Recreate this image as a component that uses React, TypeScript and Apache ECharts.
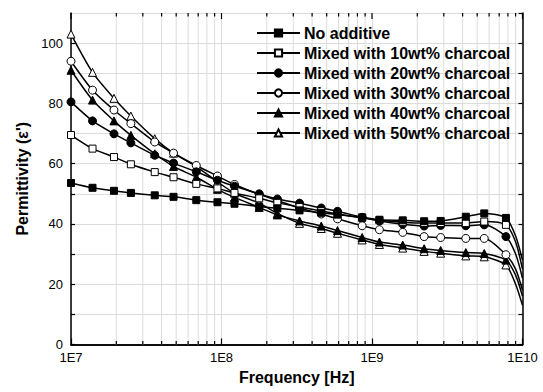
import React, { useEffect, useRef } from "react";
import * as echarts from "echarts";

const frequencies = [
  1e7, 1.39e7, 1.93e7, 2.5e7, 3.6e7, 4.8e7, 6.8e7, 9.4e7, 1.22e8, 1.78e8, 2.35e8, 3.3e8,
  4.6e8, 5.9e8, 8.6e8, 1.12e9, 1.6e9, 2.22e9, 2.86e9, 4.2e9, 5.57e9, 7.76e9, 9e9, 1e10,
];
// indices of the points that carry no marker
const hiddenMarkerIndex = [22, 23];

const noAdditive = [53.6, 52, 51, 50.3, 49.5, 49, 47.9, 47.2, 46.7, 45.8, 45.2, 44.5, 43.7, 43.1, 42.2, 41.4, 41.2, 40.9, 41, 42.4, 43.5, 42, 36, 28];
const wt10 = [69.5, 65, 62.2, 59.8, 57.2, 55.5, 53.3, 51.8, 50.3, 48.5, 47, 45.6, 44.3, 43.3, 42, 41.2, 40.6, 40.3, 40.3, 40.3, 40.8, 39.7, 34, 25];
const wt20 = [80.5, 74.2, 69.9, 66.9, 62.8, 60.2, 57.3, 54.5, 52.5, 50, 48.3, 46.9, 45.3, 44.2, 42.2, 41, 39.9, 39.3, 39.5, 39.4, 39.7, 35.8, 30, 22];
const wt30 = [94, 84.4, 77.8, 73.3, 67.2, 63.5, 59.4, 55.9, 53.1, 49.8, 47.8, 45.3, 43.3, 41.7, 39.4, 38.1, 37.2, 35.8, 35.5, 35.2, 35.2, 29.8, 25, 18];
const wt40 = [91, 81.1, 74.2, 69.4, 63.3, 59.1, 55.5, 51.5, 48.8, 45.5, 43, 41, 39.3, 37.8, 35.5, 34, 33, 31.8, 31.2, 30.5, 30.2, 28, 23, 16];
const wt50 = [103, 90.3, 81.7, 75.8, 68.3, 63.5, 59, 54, 50.2, 46.9, 43.5, 40.2, 38.5, 36.9, 34.7, 33.2, 32, 30.9, 30.3, 29.4, 29.1, 26.4, 20, 13];

const seriesNames = [
  "No additive",
  "Mixed with 10wt% charcoal",
  "Mixed with 20wt% charcoal",
  "Mixed with 30wt% charcoal",
  "Mixed with 40wt% charcoal",
  "Mixed with 50wt% charcoal",
];
const seriesValues = [noAdditive, wt10, wt20, wt30, wt40, wt50];
const seriesSymbols = ["rect", "rect", "circle", "circle", "triangle", "triangle"];
const seriesFilled = [true, false, true, false, true, false];

// x axis: decades and minor (2..9) positions
const decades = [1e7, 1e8, 1e9];
const minorMultipliers = [2, 3, 4, 5, 6, 7, 8, 9];
const minorFreqs: number[] = [];
decades.forEach((d) => minorMultipliers.forEach((k) => minorFreqs.push(k * d)));
const majorFreqs = [1e7, 1e8, 1e9, 1e10];
const yMin = 0;
const yMax = 110;
const yLabels = [0, 20, 40, 60, 80, 100];

const FONT = "'Liberation Sans', Arial, sans-serif";

export default function App() {
  const ref = useRef<HTMLDivElement>(null);
  useEffect(() => {
    if (!ref.current) return;
    const chart = echarts.init(ref.current, undefined, { renderer: "svg" });
    const gridColor = "#dcdcdc";
    const series: any[] = seriesNames.map((name, i) => ({
      name,
      type: "line",
      xAxisIndex: 0,
      yAxisIndex: 0,
      smooth: 0.25,
      symbol: seriesSymbols[i],
      symbolSize: seriesSymbols[i] === "rect" ? 7 : 8,
      showAllSymbol: true,
      lineStyle: { color: "#000", width: 1.5 },
      itemStyle: seriesFilled[i]
        ? { color: "#000", borderColor: "#000", borderWidth: 1 }
        : { color: "#fff", borderColor: "#000", borderWidth: 1 },
      data: frequencies.map((f, j) =>
        hiddenMarkerIndex.includes(j)
          ? { value: [f, seriesValues[i][j]], symbol: "none" }
          : { value: [f, seriesValues[i][j]] }
      ),
      z: 20 - i,
    }));
    const axisLine = { show: true, lineStyle: { color: "#000", width: 1.5 } };
    chart.setOption({
      animation: false,
      textStyle: { fontFamily: FONT },
      grid: { left: 71, top: 13, right: 20.5, bottom: 47.5, containLabel: false },
      legend: {
        show: true,
        orient: "vertical",
        left: 256,
        top: 24,
        padding: 0,
        itemWidth: 43,
        itemHeight: 9,
        itemGap: 2,
        data: seriesNames,
        textStyle: { fontFamily: FONT, fontSize: 16, fontWeight: "bold", color: "#000", lineHeight: 18, padding: [0, 0, 0, -1] },
      },
      xAxis: [
        {
          type: "log",
          logBase: 10,
          min: 1e7,
          max: 1e10,
          position: "bottom",
          axisLine,
          axisTick: { show: true, inside: true, length: 6, lineStyle: { color: "#000", width: 1.2 } },
          axisLabel: {
            show: true,
            margin: 6,
            fontSize: 13,
            color: "#000",
            fontFamily: FONT,
            formatter: (v: number) => "1E" + Math.round(Math.log10(v)),
          },
          splitLine: { show: true, lineStyle: { color: gridColor, width: 1 } },
          name: "Frequency [Hz]",
          nameLocation: "middle",
          nameGap: 25,
          nameTextStyle: { fontFamily: FONT, fontSize: 16, fontWeight: "bold", color: "#000" },
        },
        {
          type: "log",
          logBase: 10,
          min: 1e7,
          max: 1e10,
          position: "top",
          axisLine,
          axisTick: { show: false },
          axisLabel: { show: false },
          splitLine: { show: false },
        },
      ],
      yAxis: [
        {
          type: "value",
          min: yMin,
          max: yMax,
          interval: 10,
          position: "left",
          axisLine,
          axisTick: { show: true, inside: true, length: 4, lineStyle: { color: "#000", width: 1.2 } },
          axisLabel: {
            show: true,
            margin: 8,
            fontSize: 13,
            color: "#000",
            fontFamily: FONT,
            showMaxLabel: false,
            formatter: (v: number) => (yLabels.includes(v) ? String(v) : ""),
          },
          splitLine: { show: true, lineStyle: { color: gridColor, width: 1 } },
          name: "Permittivity (ε')",
          nameLocation: "middle",
          nameGap: 40,
          nameTextStyle: { fontFamily: FONT, fontSize: 16, fontWeight: "bold", color: "#000" },
        },
        {
          type: "value",
          min: yMin,
          max: yMax,
          interval: 10,
          position: "right",
          axisLine,
          axisTick: { show: true, inside: true, length: 4, lineStyle: { color: "#000", width: 1.2 } },
          axisLabel: { show: false },
          splitLine: { show: false },
        },
      ],
      series,
    });

    // minor log grid lines and ticks, positioned through the chart's own axes
    const yBottom = chart.convertToPixel({ yAxisIndex: 0 }, yMin) as number;
    const yTop = chart.convertToPixel({ yAxisIndex: 0 }, yMax) as number;
    const elements: any[] = [];
    const tick = (x: number, y1: number, y2: number) => ({
      type: "line",
      z: 30,
      silent: true,
      shape: { x1: x, y1, x2: x, y2 },
      style: { stroke: "#000", lineWidth: 1.2 },
    });
    minorFreqs.forEach((f) => {
      const x = chart.convertToPixel({ xAxisIndex: 0 }, f) as number;
      if (!isFinite(x)) return;
      elements.push({
        type: "line",
        z: 1,
        silent: true,
        shape: { x1: x, y1: yTop, x2: x, y2: yBottom },
        style: { stroke: gridColor, lineWidth: 1 },
      });
      elements.push(tick(x, yBottom, yBottom - 3.5));
      elements.push(tick(x, yTop, yTop + 3.5));
    });
    majorFreqs.forEach((f) => {
      const x = chart.convertToPixel({ xAxisIndex: 0 }, f) as number;
      if (!isFinite(x)) return;
      elements.push(tick(x, yTop, yTop + 6));
    });
    chart.setOption({ graphic: { elements } });

    return () => chart.dispose();
  }, []);
  return (
    <div
      ref={ref}
      style={{ position: "absolute", left: 0, top: 0, width: 543, height: 392, background: "#fff" }}
    />
  );
}
